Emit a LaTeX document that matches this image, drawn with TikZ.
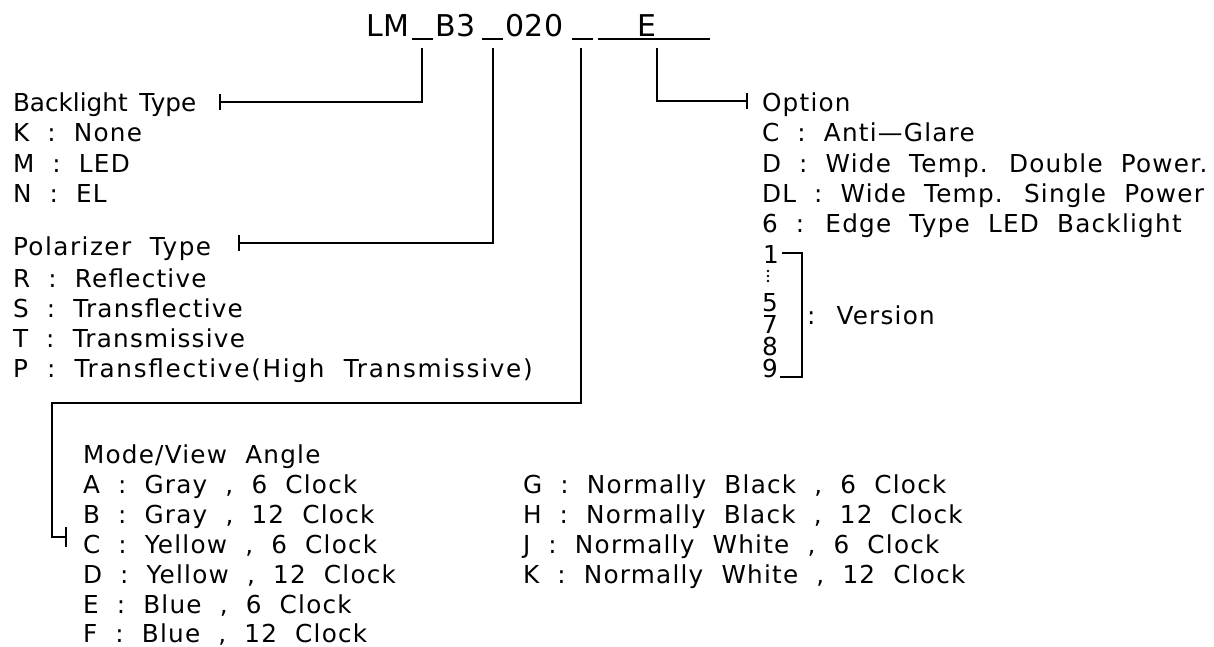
\documentclass[tikz,border=0pt]{standalone}
\usepackage{fontspec}
\usetikzlibrary{arrows.meta}
\newfontfamily\cadfont{DejaVu Sans}[LetterSpace=5,WordSpace=2]
\newfontfamily\cadwide{DejaVu Sans}[LetterSpace=7,WordSpace=2]
\newfontfamily\cadhdA{DejaVu Sans}[LetterSpace=0,WordSpace=1.5]
\newfontfamily\cadhdB{DejaVu Sans}[LetterSpace=6,WordSpace=2]
\newfontfamily\cadttl{DejaVu Sans}[LetterSpace=3]
\newcommand\mylbl{\cadfont\fontsize{24.7}{30}\selectfont}
\newcommand\mywide{\cadwide\fontsize{24.7}{30}\selectfont}
\newcommand\myhdA{\cadhdA\fontsize{24.7}{30}\selectfont}
\newcommand\myhdB{\cadhdB\fontsize{24.7}{30}\selectfont}
\newcommand\myttl{\cadttl\fontsize{30}{36}\selectfont}
\tikzset{
  txt/.style={anchor=base west, inner sep=0pt, outer sep=0pt, font=\mylbl},
  wtxt/.style={txt, font=\mywide},
  hdA/.style={txt, font=\myhdA},
  hdB/.style={txt, font=\myhdB},
  ttl/.style={anchor=base west, inner sep=0pt, outer sep=0pt, font=\myttl},
  conn/.style={line width=1.6pt, line cap=butt},
  tickend/.style={-{Bar[width=16pt]}},
  vdot/.style={circle, fill=black, inner sep=0pt, minimum size=2.6pt},
}
\begin{document}
\begin{tikzpicture}[x=1pt,y=-1pt]
\fill[white] (0,0) rectangle (1214,647);
\useasboundingbox (0,0) rectangle (1214,647);

% ---- title ----
\node[ttl] (tLM) at (366,37) {LM};
\node[ttl] (tB3) at (435,37) {B3};
\node[ttl] (t020) at (505,37) {020};
\node[ttl] (tE) at (637,37) {E};
\coordinate (s1a) at (412,39); \coordinate (s1b) at (433,39);
\coordinate (s2a) at (482,39); \coordinate (s2b) at (503,39);
\coordinate (s3a) at (572,39); \coordinate (s3b) at (593,39);
\coordinate (s4a) at (598,39); \coordinate (s4b) at (710,39);
\draw[conn] (s1a) -- (s1b);
\draw[conn] (s2a) -- (s2b);
\draw[conn] (s3a) -- (s3b);
\draw[conn] (s4a) -- (s4b);
\coordinate (u1) at (422,48);
\coordinate (u2) at (493,48);
\coordinate (u3) at (581,48);
\coordinate (u4) at (657,48);

% ---- backlight ----
\node[hdA] (bl)  at (13,112) {Backlight Type};
\node[txt] (blK) at (13,142) {K : None};
\node[txt] (blM) at (13,172) {M : LED};
\node[txt] (blN) at (13,202) {N : EL};
\coordinate (bltick) at (219,102);
\draw[conn,tickend] (u1) |- (bltick);

% ---- polarizer ----
\node[hdB] (pl)  at (13,255) {Polarizer Type};
\node[txt] (plR) at (13,287) {R : Reflective};
\node[txt] (plS) at (13,317) {S : Transflective};
\node[txt] (plT) at (13,347) {T : Transmissive};
\node[wtxt] (plP) at (13,377) {P : Transflective(High Transmissive)};
\coordinate (pltick) at (238,243);
\draw[conn,tickend] (u2) |- (pltick);

% ---- option ----
\node[txt] (op)   at (762,112) {Option};
\node[txt] (opC)  at (762,142) {C : Anti—Glare};
\node[txt] (opD)  at (762,172) {D : Wide Temp. Double Power.};
\node[txt] (opDL) at (762,202) {DL : Wide Temp. Single Power};
\node[txt] (op6)  at (762,232) {6 : Edge Type LED Backlight};
\coordinate (optick) at (748,101);
\draw[conn,tickend] (u4) |- (optick);

% ---- version stack ----
\node[txt] (v1) at (763,263) {1};
\node[vdot] (d1) at (768,271) {};
\node[vdot] (d2) at (768,276) {};
\node[vdot] (d3) at (768,281) {};
\node[txt] (v5789) at (762,377) {\vbox{\baselineskip=22pt\lineskiplimit=-100pt\hbox{5}\hbox{7}\hbox{8}\hbox{9}}};
\draw[conn] (782,253) -| (802,377) -- (780,377);
\node[txt] (ver) at (807,324) {: Version};

% ---- mode / view angle ----
\node[txt] (mv)  at (83,463) {Mode/View Angle};
\node[txt] (mvA) at (83,493) {A : Gray , 6 Clock};
\node[txt] (mvB) at (83,523) {B : Gray , 12 Clock};
\node[txt] (mvC) at (83,553) {C : Yellow , 6 Clock};
\node[txt] (mvD) at (83,583) {D : Yellow , 12 Clock};
\node[txt] (mvE) at (83,613) {E : Blue , 6 Clock};
\node[txt] (mvF) at (83,642) {F : Blue , 12 Clock};
\node[txt] (mvG) at (523,493) {G : Normally Black , 6 Clock};
\node[txt] (mvH) at (523,523) {H : Normally Black , 12 Clock};
\node[txt] (mvJ) at (523,553) {J : Normally White , 6 Clock};
\node[txt] (mvK) at (523,583) {K : Normally White , 12 Clock};
\coordinate (mvcorner) at (52,403);
\coordinate (mvtick) at (67,537);
\draw[conn,-{Bar[width=20pt]}] (u3) |- (mvcorner) |- (mvtick);
\end{tikzpicture}
\end{document}
